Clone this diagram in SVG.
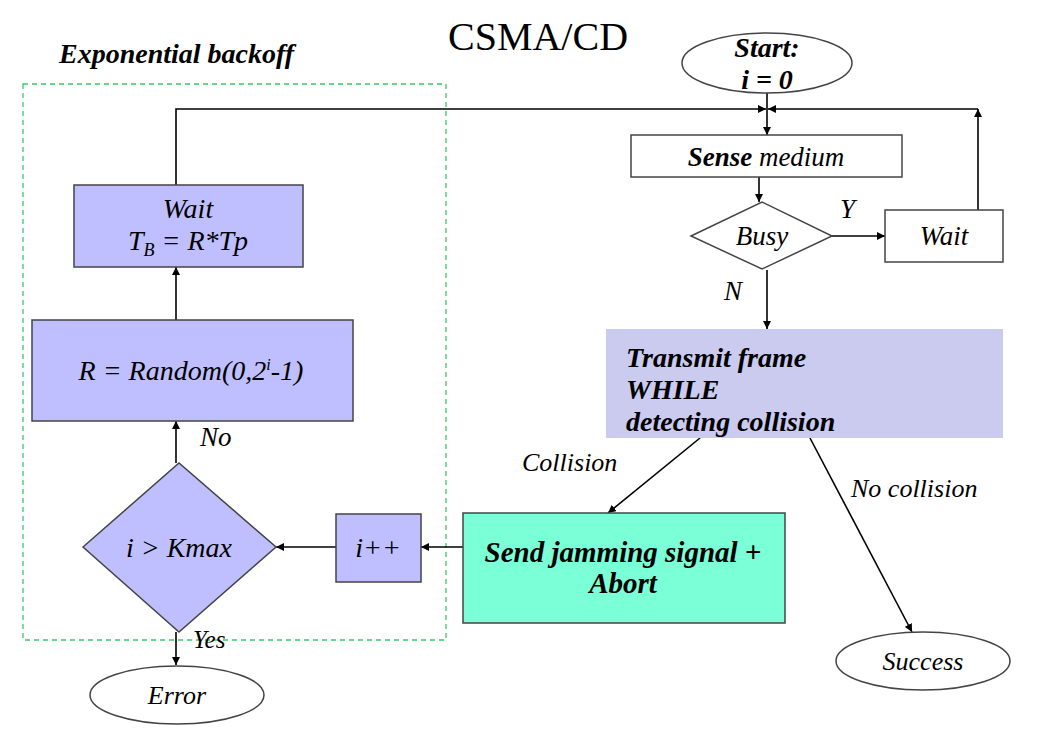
<svg xmlns="http://www.w3.org/2000/svg" width="1040" height="732" viewBox="0 0 1040 732">
<defs>
<marker id="ah" viewBox="0 0 10 10" refX="10" refY="5" markerWidth="8" markerHeight="8" markerUnits="userSpaceOnUse" orient="auto">
<path d="M0,0 L10,5 L0,10 z" fill="#000"/>
</marker>
</defs>
<style>
text{font-family:"Liberation Serif","DejaVu Serif",serif;fill:#000}
.it{font-style:italic;font-size:27px}
.bi{font-style:italic;font-weight:bold;font-size:28px}
.lav{fill:#bfbfff;stroke:#444;stroke-width:1.5}
.wht{fill:#fff;stroke:#444;stroke-width:1.5}
.cn{fill:none;stroke:#000;stroke-width:1.6}
.c{text-anchor:middle}
</style>
<rect width="1040" height="732" fill="#fff"/>
<text x="538" y="50" class="c" style="font-size:40px">CSMA/CD</text>
<text x="59" y="63" class="bi" style="font-size:28px">Exponential backoff</text>
<rect x="23" y="84" width="423" height="556" fill="none" stroke="#3cc864" stroke-width="1.3" stroke-dasharray="5,4"/>

<g id="connectors">
<path class="cn" d="M767,93 V135" marker-end="url(#ah)"/>
<path class="cn" d="M176,185 V109 H766" marker-end="url(#ah)"/>
<path class="cn" d="M978,210 V109" marker-end="url(#ah)"/>
<path class="cn" d="M978,109 H768" marker-end="url(#ah)"/>
<path class="cn" d="M759,177 V202" marker-end="url(#ah)"/>
<path class="cn" d="M832,236 H885" marker-end="url(#ah)"/>
<path class="cn" d="M767,270 V329" marker-end="url(#ah)"/>
<path class="cn" d="M700,438 L608,513" marker-end="url(#ah)"/>
<path class="cn" d="M810,438 L912,632" marker-end="url(#ah)"/>
<path class="cn" d="M463,547 H421" marker-end="url(#ah)"/>
<path class="cn" d="M336,547 H276" marker-end="url(#ah)"/>
<path class="cn" d="M176,463 V421" marker-end="url(#ah)"/>
<path class="cn" d="M176,320 V267" marker-end="url(#ah)"/>
<path class="cn" d="M176,632 V665" marker-end="url(#ah)"/>
<text x="840" y="218" class="it">Y</text>
<text x="724" y="300" class="it">N</text>
<text x="522" y="471" class="it" style="font-size:26px">Collision</text>
<text x="851" y="497" class="it" style="font-size:26px">No collision</text>
<text x="200" y="446" class="it">No</text>
<text x="193" y="648" class="it" style="font-size:25px">Yes</text>
</g>

<g id="start">
<ellipse cx="767" cy="63" rx="85" ry="30" class="wht"/>
<text x="767" y="57" class="bi c">Start:</text>
<text x="767" y="89" class="bi c">i = 0</text>
</g>

<g id="sense">
<rect x="631" y="135" width="271" height="42" class="wht"/>
<text x="766" y="166" class="c" style="font-size:27px;font-style:italic"><tspan font-weight="bold">Sense</tspan> medium</text>
</g>

<g id="busy">
<polygon points="691,236 762,202 832,236 762,269" class="wht"/>
<text x="762" y="245" class="it c">Busy</text>
</g>

<g id="wait-right">
<rect x="885" y="210" width="118" height="52" class="wht"/>
<text x="944" y="245" class="it c">Wait</text>
</g>

<g id="transmit">
<rect x="606" y="329" width="397" height="109" fill="#cbcbf0"/>
<text x="626" y="367" class="bi">Transmit frame</text>
<text x="626" y="399" class="bi">WHILE</text>
<text x="626" y="431" class="bi">detecting collision</text>
</g>

<g id="jam">
<rect x="463" y="513" width="322" height="110" fill="#7affd6" stroke="#444" stroke-width="1.5"/>
<text x="623" y="562" class="bi c" style="font-size:29px">Send jamming signal +</text>
<text x="623" y="593" class="bi c" style="font-size:29px">Abort</text>
</g>

<g id="success">
<ellipse cx="923" cy="661" rx="87" ry="29" class="wht"/>
<text x="923" y="670" class="it c" style="font-size:26px">Success</text>
</g>

<g id="inc">
<rect x="336" y="514" width="85" height="68" class="lav"/>
<text x="378" y="557" class="it c" style="font-size:28px">i++</text>
</g>

<g id="kmax">
<polygon points="83,547 179,463 276,547 179,632" class="lav"/>
<text x="179" y="557" class="it c" style="font-size:28px">i &gt; Kmax</text>
</g>

<g id="random">
<rect x="32" y="320" width="321" height="101" class="lav"/>
<text x="191" y="380" class="it c" style="font-size:28px">R = Random(0,2<tspan dy="-10" font-size="16">i</tspan><tspan dy="10">-1)</tspan></text>
</g>

<g id="wait-left">
<rect x="74" y="185" width="229" height="82" class="lav"/>
<text x="188" y="218" class="it c" style="font-size:28px">Wait</text>
<text x="188" y="250" class="it c" style="font-size:28px">T<tspan dy="6" font-size="18">B</tspan><tspan dy="-6"> = R*Tp</tspan></text>
</g>

<g id="error">
<ellipse cx="177" cy="695" rx="87" ry="29" class="wht"/>
<text x="177" y="704" class="it c" style="font-size:26px">Error</text>
</g>
</svg>
